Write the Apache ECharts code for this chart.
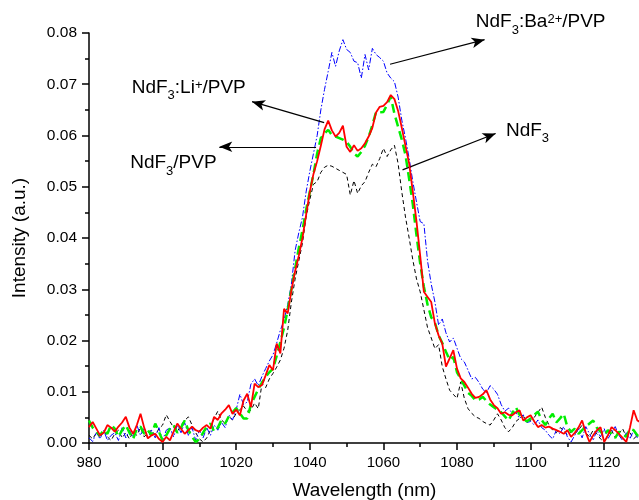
<!DOCTYPE html>
<html><head><meta charset="utf-8">
<script src="https://cdn.jsdelivr.net/npm/echarts@6/dist/echarts.min.js"></script>
<style>html,body{margin:0;padding:0;background:#fff}#c{width:639px;height:500px}</style>
</head><body><div id="c"></div>
<script>
// Wavelength samples (nm)
const wavelength = [
980,981,982,983,984,985,986,987,988,989,990,991,992,993,994,995,996,997,998,999,
1000,1001,1002,1003,1004,1005,1006,1007,1008,1009,1010,1011,1012,1013,1014,1015,1016,1017,1018,1019,
1020,1021,1022,1023,1024,1025,1026,1027,1028,1029,1030,1031,1032,1033,1034,1035,1036,1037,1038,1039,
1040,1041,1042,1043,1044,1045,1046,1047,1048,1049,1050,1051,1052,1053,1054,1055,1056,1057,1058,1059,
1060,1061,1062,1063,1064,1065,1066,1067,1068,1069,1070,1071,1072,1073,1074,1075,1076,1077,1078,1079,
1080,1081,1082,1083,1084,1085,1086,1087,1088,1089,1090,1091,1092,1093,1094,1095,1096,1097,1098,1099,
1100,1101,1102,1103,1104,1105,1106,1107,1108,1109,1110,1111,1112,1113,1114,1115,1116,1117,1118,1119,
1120,1121,1122,1123,1124,1125,1126,1127,1128,1129,1130];

// NdF3:Ba2+/PVP (blue dash-dot)
const baPVP = [
0.001,0.0003,0.002,0.0008,0.0025,0.0005,0.0015,0.002,0.0005,0.003,0.001,0.0025,0.0012,0.0035,0.0015,0.003,0.0008,0.0025,0.001,0.003,
0.0005,0.0025,0.003,0.0012,0.0035,0.002,0.004,0.0015,0.003,0.0005,0.0025,0.001,0.003,0.0015,0.0035,0.0025,0.004,0.003,0.0055,0.0045,
0.0065,0.0095,0.0075,0.008,0.0115,0.0125,0.0112,0.013,0.0145,0.016,0.0172,0.0195,0.022,0.024,0.027,0.031,0.0375,0.041,0.044,0.049,
0.053,0.0565,0.060,0.065,0.069,0.0725,0.0762,0.0735,0.0765,0.0787,0.0768,0.0762,0.0745,0.0742,0.0712,0.0758,0.0728,0.077,0.0758,0.0752,
0.0745,0.0722,0.0712,0.0705,0.0675,0.063,0.0595,0.0555,0.051,0.047,0.0432,0.0428,0.0355,0.031,0.0275,0.023,0.0242,0.0215,0.0197,0.0205,
0.0185,0.0165,0.0158,0.0142,0.0125,0.0128,0.0118,0.0105,0.0098,0.0112,0.0105,0.0095,0.0075,0.0062,0.0068,0.0058,0.006,0.0048,0.0055,0.004,
0.0042,0.0035,0.0045,0.003,0.0025,0.0015,0.0008,0.0025,0.0018,0.0032,0.0012,0.0002,0.0015,0.0028,0.001,0.0032,0.0018,0.0005,0.0025,0.0012,
0.0028,0.0008,0.002,0.0032,0.0015,0.0005,0.002,0.0008,0.0025,0.001,0.0015];

// NdF3:Li+/PVP (red solid)
const liPVP = [
0.0031,0.0041,0.0028,0.0015,0.002,0.0035,0.003,0.0022,0.0032,0.004,0.0051,0.003,0.0018,0.0035,0.0057,0.003,0.0009,0.0015,0.0018,0.0008,
0.0002,0.0012,0.0005,0.0022,0.0038,0.0028,0.0018,0.0025,0.0032,0.0025,0.0022,0.003,0.0035,0.0028,0.0051,0.0045,0.0058,0.0065,0.0074,0.0057,
0.0065,0.0054,0.0083,0.0096,0.007,0.0116,0.0109,0.0113,0.0132,0.0152,0.0142,0.0194,0.0175,0.0262,0.0253,0.0298,0.0335,0.0365,0.040,0.0445,
0.049,0.0525,0.055,0.058,0.0612,0.0629,0.061,0.0598,0.0605,0.0619,0.0578,0.0568,0.0581,0.057,0.0575,0.0585,0.0598,0.0615,0.0645,0.0656,
0.0658,0.0665,0.0679,0.0671,0.0648,0.0615,0.058,0.0545,0.049,0.0432,0.0365,0.0295,0.0285,0.0275,0.0233,0.021,0.0194,0.0149,0.0165,0.0181,
0.0145,0.0126,0.0119,0.0108,0.0096,0.0088,0.009,0.0095,0.0103,0.0085,0.0074,0.0068,0.0057,0.006,0.0055,0.0054,0.006,0.0064,0.0044,0.005,
0.0054,0.0042,0.0031,0.0035,0.003,0.0032,0.0028,0.0025,0.0022,0.0018,0.0025,0.0012,0.002,0.003,0.0044,0.002,0.0002,0.0015,0.0025,0.0031,
0.0002,0.0015,0.0031,0.0025,0.0018,0.001,0.0002,0.003,0.0064,0.0044,0.004];

// NdF3/PVP (green dashed)
const ndPVP = [
0.0044,0.003,0.0022,0.0015,0.0025,0.0018,0.0035,0.0028,0.0012,0.0025,0.0035,0.002,0.0008,0.0028,0.0032,0.0018,0.0025,0.0015,0.0038,0.0022,
0.0005,0.0015,0.0028,0.0035,0.002,0.003,0.0044,0.0025,0.0012,0.0002,0.0008,0.002,0.0032,0.0038,0.0022,0.003,0.0045,0.0038,0.0052,0.006,
0.0068,0.0058,0.0048,0.0048,0.0075,0.009,0.0105,0.0118,0.0129,0.0138,0.0145,0.017,0.0197,0.0225,0.026,0.030,0.034,0.038,0.0415,0.0455,
0.049,0.0525,0.0565,0.0595,0.0604,0.0611,0.0601,0.0598,0.0595,0.0592,0.0588,0.0578,0.0565,0.0559,0.0568,0.058,0.0598,0.062,0.0646,0.0645,
0.0646,0.066,0.0676,0.0642,0.0617,0.0592,0.0562,0.0515,0.0465,0.0405,0.035,0.0305,0.027,0.0245,0.0235,0.021,0.0195,0.0178,0.0162,0.0168,
0.0138,0.0125,0.0112,0.0098,0.0092,0.0083,0.0085,0.009,0.0082,0.0075,0.007,0.0065,0.006,0.0052,0.0044,0.0058,0.007,0.0055,0.0048,0.0042,
0.0048,0.0055,0.0061,0.0045,0.0035,0.0048,0.0057,0.004,0.0048,0.0057,0.0031,0.0022,0.0028,0.0018,0.0025,0.0032,0.0038,0.0044,0.003,0.0022,
0.0015,0.0025,0.0018,0.001,0.0022,0.0018,0.0012,0.0028,0.0025,0.0015,0.0012];

// NdF3 (black dashed)
const ndF3 = [
0.0015,0.0008,0.002,0.001,0.0025,0.0012,0.0005,0.0018,0.0025,0.001,0.002,0.0008,0.0022,0.0015,0.003,0.0012,0.002,0.0025,0.0015,0.0028,
0.0035,0.0055,0.0042,0.003,0.0022,0.0035,0.0044,0.0051,0.0035,0.002,0.0008,0.0002,0.001,0.0025,0.0048,0.0062,0.0045,0.0038,0.0052,0.0045,
0.0058,0.0065,0.0072,0.0062,0.0064,0.0078,0.0067,0.0116,0.0108,0.0125,0.0136,0.0148,0.0162,0.0185,0.022,0.0275,0.032,0.0355,0.039,0.0441,
0.0475,0.0505,0.051,0.0528,0.0538,0.0542,0.054,0.0536,0.0532,0.0528,0.0524,0.0484,0.0512,0.0487,0.0502,0.051,0.0528,0.0544,0.0539,0.0555,
0.0575,0.0559,0.0572,0.0581,0.0545,0.049,0.0441,0.040,0.0357,0.032,0.0295,0.026,0.0225,0.0205,0.0184,0.0192,0.0149,0.0125,0.0103,0.0095,
0.0087,0.0119,0.0087,0.0067,0.0058,0.0051,0.0048,0.0042,0.0038,0.0035,0.0045,0.0057,0.0045,0.003,0.0022,0.003,0.0042,0.0048,0.0051,0.0046,
0.0044,0.005,0.006,0.007,0.005,0.0035,0.0025,0.002,0.003,0.0025,0.0015,0.0022,0.0018,0.0025,0.0035,0.002,0.0012,0.0025,0.0018,0.0008,
0.0002,0.0015,0.0025,0.001,0.0018,0.0028,0.0012,0.002,0.0008,0.0015,0.001];

// Annotations: label parts (n = normal, sub, sup), label anchor (data coords: x, y at baseline), arrow [from, to] in data coords
const annLabels = [
  {parts: [['NdF','n'],['3','sub'],[':Ba','n'],['2+','sup'],['/PVP','n']], at: [1085.1, 0.0808]},
  {parts: [['NdF','n'],['3','sub'],[':Li','n'],['+','sup'],['/PVP','n']], at: [991.6, 0.0680]},
  {parts: [['NdF','n'],['3','sub'],['/PVP','n']], at: [991.2, 0.0533]},
  {parts: [['NdF','n'],['3','sub']], at: [1093.3, 0.0596]}
];
const annArrows = [
  [[1061.8, 0.0739], [1087.5, 0.0787]],
  [[1065.2, 0.0533], [1090.5, 0.0604]],
  [[1043.9, 0.0625], [1024.3, 0.0666]],
  [[1041.7, 0.0578], [1015.4, 0.0578]]
];

const FONT = '"Liberation Sans", Arial, sans-serif';
const chart = echarts.init(document.getElementById('c'));

function pair(ys){ return wavelength.map((x,i)=>[x, ys[i]]); }

const option = {
  animation: false,
  backgroundColor: '#fff',
  grid: {left: 89, top: 33, bottom: 57, right: -38.8, containLabel: false, outerBoundsMode: 'none'},
  xAxis: {
    type: 'value', min: 980, max: 1140, interval: 20,
    name: 'Wavelength (nm)', nameLocation: 'middle', nameGap: 38,
    nameTextStyle: {fontFamily: FONT, fontSize: 19, color: '#000', padding: [0, 38, 0, 0]},
    axisLine: {show: true, onZero: false, lineStyle: {color: '#000', width: 1.5}},
    axisTick: {show: true, inside: false, length: 7, lineStyle: {color: '#000', width: 1.5}},
    minorTick: {show: true, splitNumber: 2, length: 4, lineStyle: {color: '#000', width: 1.5}},
    axisLabel: {fontFamily: FONT, fontSize: 15, color: '#000', margin: 12, formatter: v => String(v)},
    splitLine: {show: false}
  },
  yAxis: {
    type: 'value', min: 0, max: 0.08, interval: 0.01,
    name: 'Intensity (a.u.)', nameLocation: 'middle', nameGap: 60,
    nameTextStyle: {fontFamily: FONT, fontSize: 19, color: '#000'},
    axisLine: {show: true, lineStyle: {color: '#000', width: 1.5}},
    axisTick: {show: true, inside: false, length: 7, lineStyle: {color: '#000', width: 1.5}},
    minorTick: {show: true, splitNumber: 2, length: 4, lineStyle: {color: '#000', width: 1.5}},
    axisLabel: {fontFamily: FONT, fontSize: 15.5, color: '#000', margin: 12, formatter: v => v.toFixed(2)},
    splitLine: {show: false}
  },
  series: [
    {name: 'NdF3', type: 'line', data: pair(ndF3), showSymbol: false, symbol: 'none',
     lineStyle: {color: '#000', width: 1, type: [4, 3]}, z: 2,
     markLine: {silent: true, symbol: ['none', 'arrow'], symbolSize: [8, 13], animation: false,
       label: {show: false},
       lineStyle: {color: '#000', width: 1.2, type: 'solid'},
       data: annArrows.map(a => [{coord: a[0]}, {coord: a[1]}])}},
    {name: 'NdF3:Ba2+/PVP', type: 'line', data: pair(baPVP), showSymbol: false, symbol: 'none',
     lineStyle: {color: '#0000ff', width: 1, type: [6, 2, 1.5, 2]}, z: 3},
    {name: 'NdF3/PVP', type: 'line', data: pair(ndPVP), showSymbol: false, symbol: 'none',
     lineStyle: {color: '#00ee00', width: 2.5, type: [9, 5]}, z: 4},
    {name: 'NdF3:Li+/PVP', type: 'line', data: pair(liPVP), showSymbol: false, symbol: 'none',
     lineStyle: {color: '#ff0000', width: 1.8}, z: 5}
  ]
};
chart.setOption(option);

// Annotation labels with subscript/superscript
const ctx = document.createElement('canvas').getContext('2d');
function tw(t, fs){ ctx.font = fs + 'px "Liberation Sans"'; return ctx.measureText(t).width; }
const els = [];
annLabels.forEach(lb => {
  const p = chart.convertToPixel({gridIndex: 0}, lb.at);
  let cx = p[0]; const B = p[1];
  lb.parts.forEach(([t, k]) => {
    const fs = k === 'n' ? 19 : 13;
    const y = k === 'n' ? B - 0.35 * 19 : (k === 'sub' ? B + 5.7 - 0.35 * 13 : B - 4.7 - 0.35 * 13);
    els.push({type: 'text', x: cx, y: y, z: 10,
      style: {text: t, fontSize: fs, fontFamily: FONT, fill: '#000', align: 'left', verticalAlign: 'middle'}});
    cx += tw(t, fs);
  });
});
chart.setOption({graphic: {elements: els}});
</script></body></html>
